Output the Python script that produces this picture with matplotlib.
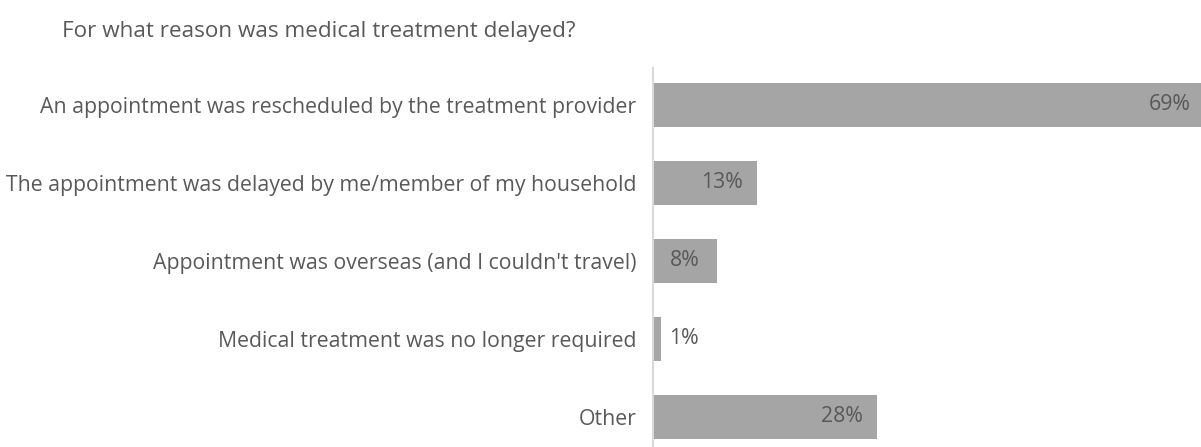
import matplotlib
matplotlib.use("Agg")
import matplotlib.pyplot as plt

reasons = [
    "An appointment was rescheduled by the treatment provider",
    "The appointment was delayed by me/member of my household",
    "Appointment was overseas (and I couldn't travel)",
    "Medical treatment was no longer required",
    "Other",
]
shares = [69, 13, 8, 1, 28]

grey_bar = "#A5A5A5"
grey_text = "#595959"
fs = 15.3

plt.rcParams["font.family"] = ["Open Sans", "DejaVu Sans"]

fig = plt.figure(figsize=(12.01, 4.47), dpi=100)
ax = fig.add_axes([653 / 1201, 0, 1 - 653 / 1201, 1 - 68 / 447])

pos = list(range(len(reasons)))
ax.barh(pos, shares, height=0.565, color=grey_bar)
ax.set_ylim(4.385, -0.474)
ax.set_xlim(0, 68.5)

ax.set_yticks(pos)
ax.set_yticklabels(reasons, fontsize=fs, color=grey_text)
ax.tick_params(axis="y", length=0, pad=12)
ax.set_xticks([])

for s in ["top", "right", "bottom"]:
    ax.spines[s].set_visible(False)
ax.spines["left"].set_color("#D9D9D9")
ax.spines["left"].set_linewidth(1.5)

# labels sit inside the bar end, or just outside when the bar is too thin
for y, v in zip(pos, shares):
    if v >= 5:
        if v < 10:
            ax.text(v / 2, y, f"{v}%", ha="center", va="center",
                    fontsize=fs, color=grey_text)
        else:
            ax.annotate(f"{v}%", (v, y), xytext=(-10, 0), textcoords="offset points",
                        ha="right", va="center", fontsize=fs, color=grey_text,
                        annotation_clip=False)
    else:
        ax.annotate(f"{v}%", (v, y), xytext=(6, 0), textcoords="offset points",
                    ha="left", va="center", fontsize=fs, color=grey_text)

fig.text(62 / 1201, 1 - 31 / 447, "For what reason was medical treatment delayed?",
         fontsize=16.2, color=grey_text, va="center", ha="left")

fig.savefig("out.png", dpi=100)
